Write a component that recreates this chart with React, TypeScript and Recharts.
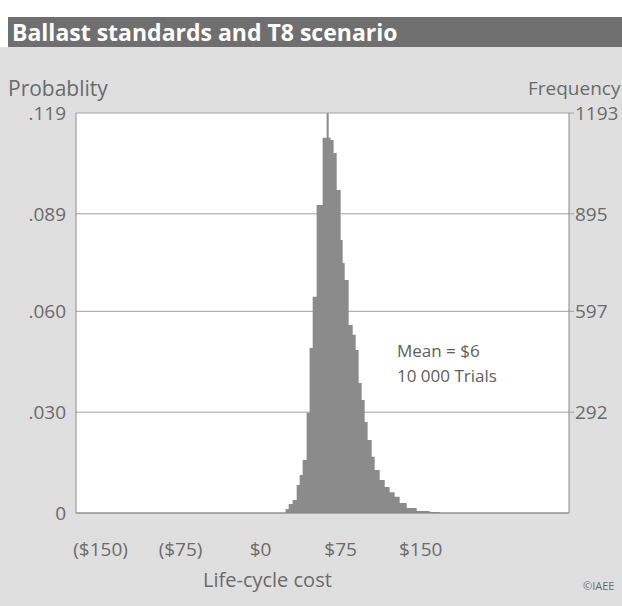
import React from "react";
import { AreaChart, Area, XAxis, YAxis, CartesianGrid } from "recharts";

// histogram bin left edges ($) and probability of each bin
const binStart = [
  23.4, 26.3, 30, 33.8, 36.6, 39.4, 43.1, 45.9, 48.8, 52.5, 58.1, 61.9, 63.8,
  65.6, 68.4, 71.3, 75, 76.9, 78.8, 82.5, 86.3, 89.1, 91.9, 94.7, 97.5, 100.3,
  104.1, 106.9, 111.6, 116.3, 120.9, 125.6, 130.3, 136.9, 146.3, 158.4, 167.8,
];
const probability = [
  0.0012, 0.0027, 0.0039, 0.0083, 0.0113, 0.0158, 0.0298, 0.0491, 0.0643,
  0.0916, 0.1116, 0.119, 0.1116, 0.111, 0.1071, 0.0961, 0.0812, 0.0744, 0.0693,
  0.0559, 0.053, 0.0485, 0.0387, 0.0336, 0.0271, 0.0217, 0.0167, 0.0128, 0.0098,
  0.0077, 0.0062, 0.0048, 0.003, 0.0015, 0.0006, 0.0003, 0,
];

const costTicks = [-150, -75, 0, 75, 150];
const costLabels = ["($150)", "($75)", "$0", "$75", "$150"];
const probTicks = [0, 0.03, 0.06, 0.089, 0.119];
const probLabels = ["0", ".030", ".060", ".089", ".119"];
const freqLabels = ["", "292", "597", "895", "1193"];

const data = binStart.map((cost, i) => ({ cost, prob: probability[i] }));

const font = "'Open Sans', sans-serif";
const textGray = "#6b6b6b";

export default function App() {
  return (
    <div
      style={{
        position: "fixed",
        left: 0,
        top: 0,
        width: 622,
        height: 606,
        background: "#fff",
        fontFamily: font,
        overflow: "hidden",
      }}
    >
      {/* gray panel */}
      <div
        style={{
          position: "absolute",
          left: 0,
          top: 47,
          width: 622,
          height: 559,
          background: "#dfdfdf",
        }}
      />
      {/* title bar */}
      <div
        style={{
          position: "absolute",
          left: 8,
          top: 17,
          width: 614,
          height: 30,
          background: "#6f6f6f",
          color: "#fff",
          fontWeight: 700,
          fontSize: 23,
          lineHeight: "30px",
          paddingLeft: 4,
          boxSizing: "border-box",
          whiteSpace: "nowrap",
        }}
      >
        Ballast standards and T8 scenario
      </div>

      <div style={{ position: "absolute", left: 0, top: 0 }}>
        <AreaChart
          width={622}
          height={606}
          data={data}
          margin={{ top: 113, right: 0, bottom: 53, left: 0 }}
        >
          <CartesianGrid
            vertical={false}
            fill="#fff"
            stroke="#a0a0a0"
            horizontalValues={probTicks}
            yAxisId="prob"
          />
          <XAxis
            type="number"
            dataKey="cost"
            domain={[-173, 289]}
            ticks={costTicks}
            tickFormatter={(v) => costLabels[costTicks.indexOf(v)]}
            height={40}
            tickLine={false}
            tickSize={20}
            tickMargin={10}
            axisLine={{ stroke: "#8a8a8a" }}
            tick={{ fill: textGray, fontSize: 19, fontFamily: font }}
            allowDataOverflow
          />
          <YAxis
            yAxisId="prob"
            domain={[0, 0.119]}
            ticks={probTicks}
            tickFormatter={(v) => probLabels[probTicks.indexOf(v)]}
            width={76}
            tickLine={false}
            tickSize={8}
            tickMargin={2}
            axisLine={{ stroke: "#8a8a8a" }}
            tick={{ fill: textGray, fontSize: 19, fontFamily: font }}
            allowDataOverflow
          />
          <YAxis
            yAxisId="freq"
            orientation="right"
            domain={[0, 0.119]}
            ticks={probTicks.slice(1)}
            tickFormatter={(v) => freqLabels[probTicks.indexOf(v)]}
            width={53}
            tickLine={{ stroke: "#a0a0a0" }}
            tickSize={5}
            tickMargin={1}
            axisLine={{ stroke: "#8a8a8a" }}
            tick={{ fill: textGray, fontSize: 19, fontFamily: font }}
            allowDataOverflow
          />
          <Area
            yAxisId="prob"
            type="stepAfter"
            dataKey="prob"
            fill="#8b8b8b"
            fillOpacity={1}
            stroke="none"
            isAnimationActive={false}
          />
        </AreaChart>
      </div>

      {/* axis titles and notes */}
      <div style={{ position: "absolute", left: 8, top: 74, fontSize: 21, color: textGray }}>
        Probablity
      </div>
      <div style={{ position: "absolute", left: 528, top: 75, fontSize: 19, color: textGray, whiteSpace: "nowrap" }}>
        Frequency
      </div>
      <div style={{ position: "absolute", left: 203, top: 566, fontSize: 20, color: textGray }}>
        Life-cycle cost
      </div>
      <div style={{ position: "absolute", left: 583, top: 578, fontSize: 11, color: textGray, whiteSpace: "nowrap" }}>
        ©IAEE
      </div>
      <div style={{ position: "absolute", left: 397, top: 338, fontSize: 17, lineHeight: "25px", color: "#5e5e5e" }}>
        Mean = $6
        <br />
        10 000 Trials
      </div>
    </div>
  );
}
